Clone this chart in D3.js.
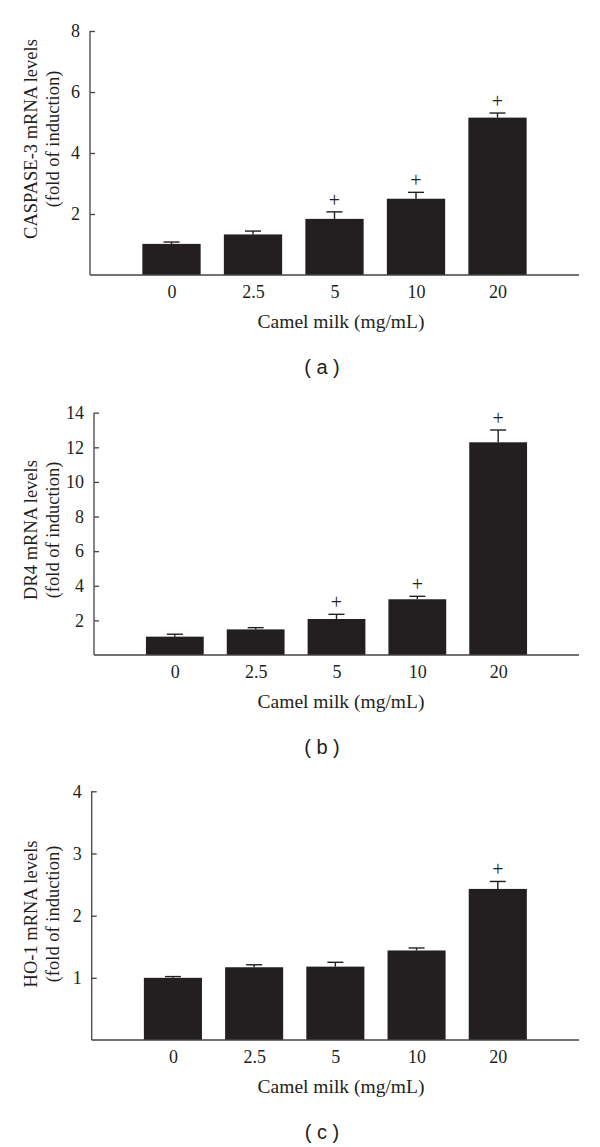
<!DOCTYPE html>
<html>
<head>
<meta charset="utf-8">
<script src="https://cdn.jsdelivr.net/npm/d3@7"></script>
<style>
  body { margin: 0; background: #fff; }
  svg { display: block; }
</style>
</head>
<body>
<div id="chart"></div>
<script>
// doses of camel milk (mg/mL)
var doses = ["0", "2.5", "5", "10", "20"];

// CASPASE-3 mRNA (fold of induction)
var caspase3 = [1.02, 1.33, 1.84, 2.50, 5.16];
var caspase3Err = [0.06, 0.11, 0.23, 0.21, 0.15];
var caspase3Sig = [false, false, true, true, true];
var caspase3Ticks = [2, 4, 6, 8];

// DR4 mRNA
var dr4 = [1.06, 1.48, 2.08, 3.22, 12.29];
var dr4Err = [0.14, 0.10, 0.27, 0.17, 0.71];
var dr4Sig = [false, false, true, true, true];
var dr4Ticks = [2, 4, 6, 8, 10, 12, 14];

// HO-1 mRNA
var ho1 = [1.00, 1.17, 1.18, 1.44, 2.43];
var ho1Err = [0.02, 0.04, 0.07, 0.04, 0.12];
var ho1Sig = [false, false, false, false, true];
var ho1Ticks = [1, 2, 3, 4];

var W = 600, H = 1147;
var serif = "'Liberation Serif', 'Times New Roman', serif";

var svg = d3.select("#chart").append("svg")
    .attr("width", W)
    .attr("height", H);

var panels = [
    {name: "CASPASE-3 mRNA levels", vals: caspase3, errs: caspase3Err, sig: caspase3Sig,
     ticks: caspase3Ticks, x0: 90, top: 31, base: 275, labelY: 139, tag: "a"},
    {name: "DR4 mRNA levels", vals: dr4, errs: dr4Err, sig: dr4Sig,
     ticks: dr4Ticks, x0: 94, top: 412.7, base: 655, labelY: 530, tag: "b"},
    {name: "HO-1 mRNA levels", vals: ho1, errs: ho1Err, sig: ho1Sig,
     ticks: ho1Ticks, x0: 91.7, top: 791.3, base: 1040, labelY: 914, tag: "c"}
];

var xEnd = 579;

panels.forEach(function(p) {
    var g = svg.append("g");
    var ymax = d3.max(p.ticks);

    var x = d3.scalePoint()
        .domain(doses)
        .range([p.x0, xEnd])
        .padding(1);
    var bw = x.step() * 0.715;

    var y = d3.scaleLinear()
        .domain([0, ymax])
        .range([p.base, p.top]);

    var rows = doses.map(function(d, i) {
        return {dose: d, v: p.vals[i], e: p.errs[i], sig: p.sig[i]};
    });

    // bars
    g.selectAll("rect.bar")
        .data(rows)
        .enter().append("rect")
        .attr("class", "bar")
        .attr("x", d => x(d.dose) - bw / 2)
        .attr("y", d => y(d.v))
        .attr("width", bw)
        .attr("height", d => y(0) - y(d.v))
        .attr("fill", "#231f20");

    // error bars (upper only)
    g.selectAll("line.err")
        .data(rows)
        .enter().append("line")
        .attr("x1", d => x(d.dose)).attr("x2", d => x(d.dose))
        .attr("y1", d => y(d.v)).attr("y2", d => y(d.v + d.e))
        .attr("stroke", "#231f20").attr("stroke-width", 1.4);
    g.selectAll("line.cap")
        .data(rows)
        .enter().append("line")
        .attr("x1", d => x(d.dose) - 8).attr("x2", d => x(d.dose) + 8)
        .attr("y1", d => y(d.v + d.e)).attr("y2", d => y(d.v + d.e))
        .attr("stroke", "#231f20").attr("stroke-width", 1.4);

    // significance marks
    g.selectAll("text.sig")
        .data(rows.filter(d => d.sig))
        .enter().append("text")
        .attr("x", d => x(d.dose))
        .attr("y", d => y(d.v + d.e) - 5)
        .attr("text-anchor", "middle")
        .attr("font-family", serif)
        .attr("font-size", 20)
        .attr("fill", "#231f20")
        .text("+");

    // y axis
    var yAxis = d3.axisLeft(y)
        .tickValues(p.ticks)
        .tickSize(-5)
        .tickPadding(10)
        .tickFormat(d3.format("d"));
    var ya = g.append("g")
        .attr("transform", "translate(" + p.x0 + ",0)")
        .call(yAxis);
    ya.select(".domain").remove();
    ya.append("line")
        .attr("x1", 0).attr("x2", 0)
        .attr("y1", y(0)).attr("y2", y(ymax))
        .attr("stroke", "#444").attr("stroke-width", 1.3);
    ya.selectAll(".tick line").attr("stroke", "#444").attr("stroke-width", 1.3);
    ya.selectAll(".tick text")
        .attr("font-family", serif)
        .attr("font-size", 18)
        .attr("fill", "#231f20");

    // x axis
    var xAxis = d3.axisBottom(x).tickSize(0).tickPadding(10);
    var xa = g.append("g")
        .attr("transform", "translate(0," + p.base + ")")
        .call(xAxis);
    xa.select(".domain").remove();
    xa.append("line")
        .attr("x1", p.x0).attr("x2", xEnd)
        .attr("stroke", "#444").attr("stroke-width", 1.3);
    xa.selectAll(".tick text")
        .attr("font-family", serif)
        .attr("font-size", 18)
        .attr("fill", "#231f20");

    // axis titles
    g.append("text")
        .attr("x", 341)
        .attr("y", p.base + 53)
        .attr("text-anchor", "middle")
        .attr("font-family", serif)
        .attr("font-size", 19.5)
        .attr("fill", "#231f20")
        .text("Camel milk (mg/mL)");

    var yl = g.append("text")
        .attr("transform", "translate(31," + p.labelY + ") rotate(-90)")
        .attr("text-anchor", "middle")
        .attr("font-family", serif)
        .attr("font-size", 18.5)
        .attr("fill", "#231f20");
    yl.append("tspan").attr("x", 0).attr("dy", "0.35em").text(p.name);
    yl.append("tspan").attr("x", 0).attr("dy", 21.5).text("(fold of induction)");

    // panel tag
    g.append("text")
        .attr("x", 322)
        .attr("y", p.base + 99)
        .attr("text-anchor", "middle")
        .attr("font-family", "'Liberation Sans', Arial, sans-serif")
        .attr("font-size", 20)
        .attr("fill", "#231f20")
        .attr("xml:space", "preserve")
        .style("white-space", "pre")
        .text("( " + p.tag + " )");
});
</script>
</body>
</html>
